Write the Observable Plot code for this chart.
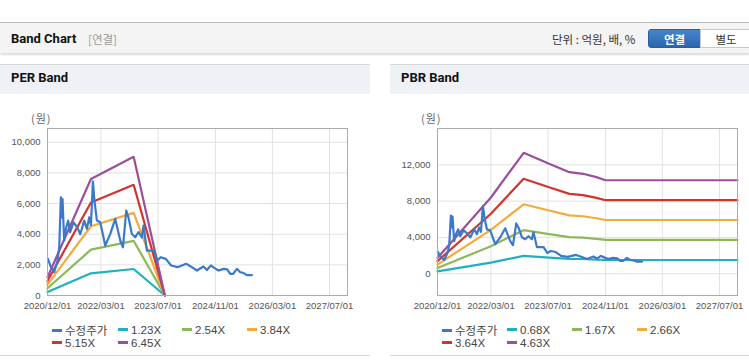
<!DOCTYPE html>
<html>
<head>
<meta charset="utf-8">
<script src="https://cdn.jsdelivr.net/npm/d3@7"></script>
<script src="https://cdn.jsdelivr.net/npm/@observablehq/plot@0.6"></script>
<style>
  html, body { margin: 0; padding: 0; background: #fff; }
  body { width: 749px; height: 364px; position: relative; overflow: hidden; font-family: "Liberation Sans", Arial, "Noto Sans CJK KR", sans-serif; }
  .abs { position: absolute; }
  .topbar { left: 0; top: 22px; width: 749px; height: 30px; background: #f4f4f4; border-top: 1px solid #bdbdbd; box-shadow: 0 2px 2px rgba(0,0,0,0.14); }
  .title { font-family: Roboto, "Noto Sans CJK KR", sans-serif; font-weight: bold; font-size: 13px; color: #111; }
  .sub { font-family: "Noto Sans CJK KR", sans-serif; font-size: 11.5px; color: #9a9a9a; }
  .unit { font-family: "Noto Sans CJK KR", sans-serif; font-size: 11.5px; color: #333; }
  .btn { top: 29px; height: 19px; line-height: 19px; text-align: center; font-family: "Noto Sans CJK KR", sans-serif; font-size: 11.5px; box-sizing: border-box; }
  .panelhead { top: 64px; height: 29px; background: #eef1f6; border-top: 1px solid #d6d6d6; }
  .panelbottom { top: 355px; height: 1px; background: #d3d3d3; }
  .ylab { font-family: "Noto Sans CJK KR", sans-serif; font-size: 11px; color: #666; letter-spacing: 1px; }
  .leg { font-family: "Liberation Sans", Arial, "Noto Sans CJK KR", sans-serif; font-size: 11.5px; color: #444; white-space: nowrap; line-height: 13px; }
  .leg .sw { display: inline-block; width: 10px; height: 3px; vertical-align: middle; margin-right: 3px; position: relative; top: -1px; }
  .leg .ko { font-family: "Noto Sans CJK KR", sans-serif; }
</style>
</head>
<body>
<div class="abs topbar"></div>
<div class="abs title" style="left:11px; top:31px;">Band Chart</div>
<div class="abs sub" style="left:88px; top:31px;">[연결]</div>
<div class="abs unit" style="left:552px; top:31px;">단위 : 억원, 배, %</div>
<div class="abs btn" style="left:648px; width:53px; background:linear-gradient(#4585cc,#2b66ae); color:#fff; font-weight:bold; border-radius:3px 0 0 3px; border:1px solid #285f9f;">연결</div>
<div class="abs btn" style="left:700px; width:52px; background:#fff; color:#333; border:1px solid #c8c8c8;">별도</div>

<div class="abs panelhead" style="left:0; width:370px;"></div>
<div class="abs panelhead" style="left:390px; width:359px;"></div>
<div class="abs title" style="left:11px; top:70px;">PER Band</div>
<div class="abs title" style="left:401px; top:70px;">PBR Band</div>
<div class="abs ylab" style="left:31px; top:110px;">(원)</div>
<div class="abs ylab" style="left:421px; top:110px;">(원)</div>
<div class="abs" id="per" style="left:0; top:100px;"></div>
<div class="abs" id="pbr" style="left:390px; top:100px;"></div>
<div class="abs panelbottom" style="left:0; width:370px;"></div>
<div class="abs panelbottom" style="left:390px; width:359px;"></div>

<script>
// ---------------- data ----------------
const xTickLabels = ["2020/12/01","2022/03/01","2023/07/01","2024/11/01","2026/03/01","2027/07/01"];
const xDomain = ["2020-12-01","2027-12-01"];

const perYTicks = [0, 2000, 4000, 6000, 8000, 10000];
const pbrYTicks = [0, 4000, 8000, 12000];
const perYDomain = [0, 10900];
const pbrYDomain = [-2400, 16000];

const seriesColors = ["#3b79c9", "#21b0bf", "#8db85a", "#f4aa3c", "#d4332d", "#9a4f9d"];
const perLabels = ["수정주가", "1.23X", "2.54X", "3.84X", "5.15X", "6.45X"];
const pbrLabels = ["수정주가", "0.68X", "1.67X", "2.66X", "3.64X", "4.63X"];

// 수정주가 (adjusted price)
const priceDates = [
  "2020-12-04","2020-12-30","2021-01-27","2021-02-24","2021-03-11","2021-03-25","2021-03-30","2021-04-08",
  "2021-04-22","2021-05-07","2021-05-26","2021-06-12","2021-07-11","2021-08-14","2021-09-06","2021-10-10",
  "2021-11-02","2021-11-21","2021-12-06","2021-12-23","2022-01-05","2022-01-26","2022-02-23","2022-04-07",
  "2022-05-20","2022-07-01","2022-08-13","2022-09-05","2022-10-03","2022-10-22","2022-11-20","2022-12-18",
  "2023-01-15","2023-02-13","2023-02-27","2023-03-28","2023-05-24","2023-06-25","2023-07-24","2023-09-05",
  "2023-10-20","2023-12-15","2024-02-25","2024-04-14","2024-05-27","2024-07-22","2024-08-20","2024-09-23",
  "2024-10-21","2024-11-27","2025-01-09","2025-02-09","2025-03-07","2025-04-01","2025-05-03","2025-05-31",
  "2025-06-26","2025-07-27","2025-09-08"
];
const priceValues = [
  2400, 1850, 1520, 2280, 3150, 6410, 5100, 6300,
  3590, 4350, 4890, 4130, 4780, 4410, 4000, 4890,
  4350, 5100, 4600, 7450, 6200, 4890, 4780, 3260,
  4020, 5000, 3590, 3150, 5540, 5100, 4020, 3800,
  4130, 3800, 4560, 2930, 2930, 2280, 2500, 2390,
  1960, 1850, 2070, 1850, 1630, 1890, 1670, 1960,
  1800, 1630, 1740, 1700, 1410, 1410, 1740, 1520,
  1480, 1330, 1330
];

// PER bands
const perBandDates = ["2020-12-01", "2021-12-06", "2022-12-05", "2023-08-28"];
const per123 = [230, 1450, 1730, 0];
const per254 = [470, 2990, 3570, 0];
const per384 = [710, 4520, 5390, 0];
const per515 = [950, 6070, 7230, 0];
const per645 = [1190, 7600, 9050, 0];

// PBR bands
const pbrBandDates = ["2020-12-01", "2022-03-01", "2022-12-05", "2023-07-10", "2023-12-30", "2024-04-24", "2024-08-16", "2024-11-01", "2027-12-01"];
const pbr068 = [260, 1230, 1960, 1780, 1640, 1620, 1560, 1510, 1510];
const pbr167 = [630, 3030, 4800, 4370, 4040, 3970, 3840, 3720, 3720];
const pbr266 = [1010, 4830, 7650, 6960, 6430, 6330, 6110, 5920, 5920];
const pbr364 = [1380, 6610, 10470, 9520, 8800, 8660, 8360, 8100, 8100];
const pbr463 = [1750, 8400, 13320, 12110, 11190, 11010, 10640, 10300, 10300];

// ---------------- drawing ----------------
const parseISO = d3.utcParse("%Y-%m-%d");
const parseTick = d3.utcParse("%Y/%m/%d");
const xTicks = xTickLabels.map(parseTick);
const rows = (dates, vals) => dates.map((d, i) => ({date: parseISO(d), value: vals[i]}));
const priceRows = rows(priceDates, priceValues);

function chart({bands, bandDates, yDomain, yTicks, width, marginRight}) {
  const bandMarks = bands.map((vals, i) =>
    Plot.line(rows(bandDates, vals), {x: "date", y: "value", stroke: seriesColors[i + 1], strokeWidth: 2.2, strokeLinejoin: "miter"}));
  return Plot.plot({
    width, height: 220,
    marginTop: 28, marginBottom: 25, marginLeft: 47, marginRight,
    style: {fontFamily: "'Liberation Sans', Arial, sans-serif", fontSize: "9.5px", color: "#555", background: "transparent", overflow: "visible"},
    x: {type: "utc", domain: xDomain.map(parseISO)},
    y: {domain: yDomain},
    marks: [
      Plot.gridX(xTicks, {stroke: "#e2e2e2", strokeOpacity: 1}),
      Plot.gridY(yTicks, {stroke: "#e2e2e2", strokeOpacity: 1}),
      Plot.axisX(xTicks, {tickSize: 0, tickPadding: 7, tickFormat: d3.utcFormat("%Y/%m/%d"), label: null, fill: "#555"}),
      Plot.axisY(yTicks, {tickSize: 0, tickPadding: 7, tickFormat: d3.format(","), label: null, fill: "#555"}),
      ...bandMarks,
      Plot.line(priceRows, {x: "date", y: "value", stroke: seriesColors[0], strokeWidth: 2.2}),
      Plot.frame({stroke: "#ababab", strokeWidth: 1})
    ]
  });
}

document.getElementById("per").appendChild(chart({
  bands: [per123, per254, per384, per515, per645], bandDates: perBandDates,
  yDomain: perYDomain, yTicks: perYTicks, width: 370, marginRight: 23
}));
document.getElementById("pbr").appendChild(chart({
  bands: [pbr068, pbr167, pbr266, pbr364, pbr463], bandDates: pbrBandDates,
  yDomain: pbrYDomain, yTicks: pbrYTicks, width: 359, marginRight: 12
}));

function legend(labels, xs, rowsY) {
  labels.forEach((lab, i) => {
    const el = document.createElement("div");
    el.className = "abs leg";
    el.style.left = xs[i % 4] + "px";
    el.style.top = (rowsY[Math.floor(i / 4)] - 7) + "px";
    const sw = document.createElement("span");
    sw.className = "sw";
    sw.style.background = seriesColors[i];
    const tx = document.createElement("span");
    tx.textContent = lab;
    if (/[가-힣]/.test(lab)) tx.className = "ko";
    el.appendChild(sw); el.appendChild(tx);
    document.body.appendChild(el);
  });
}
legend(perLabels, [52, 118, 182, 247], [331, 344]);
legend(pbrLabels, [442, 507, 572, 637], [331, 344]);
</script>
</body>
</html>
